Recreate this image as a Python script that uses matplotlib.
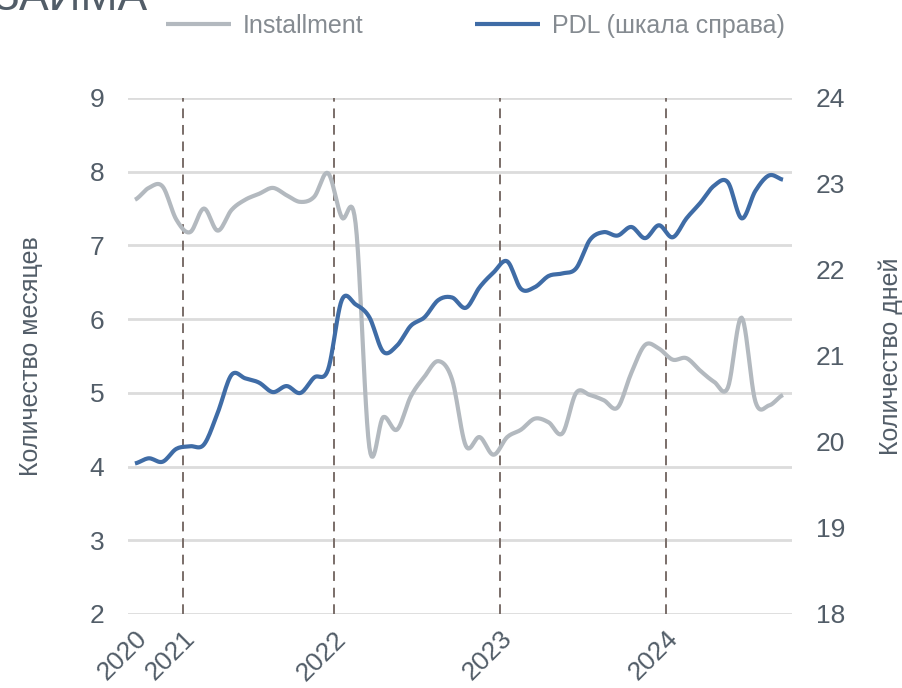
import numpy as np
import matplotlib.pyplot as plt

# monthly values
installment = [7.62, 7.78, 7.80, 7.35, 7.18, 7.50, 7.20, 7.48, 7.62, 7.70,
               7.78, 7.68, 7.59, 7.66, 7.98, 7.38, 7.30, 4.26, 4.67, 4.50,
               4.95, 5.22, 5.43, 5.18, 4.28, 4.40, 4.16, 4.40, 4.50, 4.65,
               4.60, 4.45, 5.00, 4.97, 4.90, 4.80, 5.27, 5.65, 5.60, 5.45,
               5.47, 5.30, 5.15, 5.07, 6.02, 4.88, 4.83, 4.97]
pdl = [19.75, 19.81, 19.77, 19.92, 19.95, 19.97, 20.34, 20.78, 20.74, 20.69,
       20.58, 20.65, 20.57, 20.75, 20.84, 21.65, 21.60, 21.45, 21.05, 21.12,
       21.35, 21.45, 21.65, 21.68, 21.56, 21.80, 21.97, 22.10, 21.78, 21.80,
       21.93, 21.96, 22.02, 22.35, 22.44, 22.40, 22.50, 22.37, 22.52, 22.38,
       22.60, 22.78, 22.98, 23.02, 22.60, 22.92, 23.10, 23.05]
year_labels = ['2020', '2021', '2022', '2023', '2024']
year_pos = [0.0, 3.48, 14.43, 26.47, 38.51]

GREY = '#b3b9bf'
BLUE = '#3f6ca6'
TXT = '#525d68'
LEG = '#858b91'


def smooth(y, n=12):
    # Excel-like smoothed line (uniform Catmull-Rom through the points)
    y = np.asarray(y, float)
    p = np.concatenate([[y[0]], y, [y[-1]]])
    xs, ys = [], []
    t = np.linspace(0, 1, n, endpoint=False)
    for i in range(len(y) - 1):
        p0, p1, p2, p3 = p[i], p[i + 1], p[i + 2], p[i + 3]
        seg = 0.5 * (2 * p1 + (-p0 + p2) * t + (2 * p0 - 5 * p1 + 4 * p2 - p3) * t**2
                     + (-p0 + 3 * p1 - 3 * p2 + p3) * t**3)
        xs.append(i + t)
        ys.append(seg)
    xs.append([len(y) - 1])
    ys.append([y[-1]])
    return np.concatenate(xs), np.concatenate(ys)


plt.rcParams['font.family'] = ['Liberation Sans', 'DejaVu Sans']

fig = plt.figure(figsize=(9.02, 6.88), dpi=100)
ax = fig.add_axes([0.142, 0.1076, 0.736, 0.75])
ax2 = ax.twinx()

for y in range(2, 10):
    ax.axhline(y, color='#dcdcdc', lw=2, zorder=0)
for xp in year_pos[1:]:
    ax.axvline(xp, color='#7a6e69', lw=1.4, ls=(0, (5, 3.5)), zorder=1)

xg, yg = smooth(installment)
ax.plot(xg, yg, color=GREY, lw=3, solid_capstyle='butt', zorder=3, label='Installment')
xb, yb = smooth(pdl)
ax2.plot(xb, yb, color=BLUE, lw=3, solid_capstyle='butt', zorder=3, label='PDL (шкала справа)')

ax.set_xlim(-0.5, 47.65)
ax.set_ylim(2, 9)
ax2.set_ylim(18, 24)
ax.set_yticks(range(2, 10))
ax2.set_yticks(range(18, 25))
ax.set_xticks(year_pos)
ax.set_xticklabels(year_labels, rotation=45, ha='right', rotation_mode='anchor')

for a in (ax, ax2):
    for s in a.spines.values():
        s.set_visible(False)
    a.tick_params(length=0, labelsize=19, colors=TXT)
ax.tick_params(axis='y', pad=17)
ax2.tick_params(axis='y', pad=17)
ax.tick_params(axis='x', pad=9)

ax.set_ylabel('Количество месяцев', fontsize=18, color=TXT, labelpad=34)
ax2.set_ylabel('Количество дней', fontsize=18, color=TXT, labelpad=24)

h1, l1 = ax.get_legend_handles_labels()
h2, l2 = ax2.get_legend_handles_labels()
leg = fig.legend(h1 + h2, l1 + l2, loc='center', bbox_to_anchor=(0.527, 0.962), ncol=2,
                 frameon=False, fontsize=18, handlelength=2.6, columnspacing=4.5,
                 handletextpad=0.45)
for t in leg.get_texts():
    t.set_color(LEG)

fig.text(-0.008, 0.985, 'ЗАЙМА', fontsize=32, color=TXT, va='baseline')

fig.savefig('out.png', dpi=100)
